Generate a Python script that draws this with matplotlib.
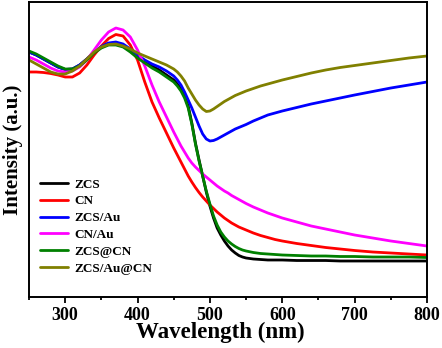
import numpy as np
import matplotlib.pyplot as plt

plt.rcParams['font.family'] = 'Liberation Serif'
plt.rcParams['font.weight'] = 'bold'

# wavelength grid (nm)
wl = [250, 260, 270, 280, 290, 300, 310, 320, 330, 340, 350, 360, 370, 380, 390,
      400, 410, 420, 430, 440, 450, 455, 460, 465, 470, 475, 480, 485, 490, 495,
      500, 505, 510, 515, 520, 525, 530, 535, 540, 545, 550, 560, 570, 580, 590,
      600, 620, 640, 660, 680, 700, 725, 750, 775, 800]

zcs = [2.45, 2.42, 2.38, 2.34, 2.30, 2.275, 2.28, 2.32, 2.38, 2.45, 2.50, 2.535, 2.54, 2.51, 2.46,
       2.40, 2.35, 2.31, 2.27, 2.22, 2.17, 2.13, 2.08, 2.01, 1.91, 1.74, 1.54, 1.37, 1.21, 1.05,
       0.91, 0.79, 0.69, 0.62, 0.56, 0.51, 0.47, 0.44, 0.415, 0.40, 0.39, 0.38, 0.375, 0.37, 0.37,
       0.37, 0.365, 0.365, 0.365, 0.36, 0.36, 0.36, 0.36, 0.36, 0.36]

cn = [2.25, 2.25, 2.245, 2.235, 2.22, 2.20, 2.20, 2.24, 2.32, 2.42, 2.51, 2.585, 2.625, 2.61, 2.52,
      2.37, 2.15, 1.95, 1.79, 1.64, 1.49, 1.42, 1.35, 1.28, 1.21, 1.15, 1.095, 1.045, 1.00, 0.96,
      0.92, 0.885, 0.85, 0.82, 0.79, 0.765, 0.74, 0.72, 0.70, 0.685, 0.67, 0.64, 0.615, 0.595, 0.575,
      0.56, 0.535, 0.515, 0.495, 0.48, 0.465, 0.45, 0.44, 0.43, 0.42]

zcs_au = [2.45, 2.42, 2.38, 2.34, 2.30, 2.275, 2.28, 2.32, 2.38, 2.45, 2.505, 2.54, 2.55, 2.53, 2.48,
          2.42, 2.37, 2.33, 2.30, 2.26, 2.21, 2.17, 2.12, 2.05, 1.97, 1.89, 1.80, 1.71, 1.63, 1.58,
          1.56, 1.565, 1.58, 1.60, 1.62, 1.64, 1.66, 1.68, 1.695, 1.71, 1.725, 1.76, 1.79, 1.82, 1.84,
          1.86, 1.895, 1.93, 1.96, 1.99, 2.02, 2.055, 2.09, 2.12, 2.15]

cn_au = [2.40, 2.37, 2.33, 2.29, 2.26, 2.25, 2.26, 2.30, 2.37, 2.47, 2.57, 2.65, 2.69, 2.67, 2.60,
         2.47, 2.31, 2.12, 1.95, 1.80, 1.65, 1.58, 1.51, 1.45, 1.39, 1.34, 1.30, 1.265, 1.23, 1.20,
         1.17, 1.14, 1.11, 1.085, 1.06, 1.04, 1.015, 0.995, 0.975, 0.955, 0.935, 0.90, 0.87, 0.84, 0.815,
         0.79, 0.75, 0.71, 0.68, 0.65, 0.62, 0.59, 0.56, 0.535, 0.51]

zcs_cn = [2.46, 2.43, 2.39, 2.35, 2.31, 2.28, 2.28, 2.31, 2.37, 2.44, 2.49, 2.52, 2.52, 2.50, 2.45,
          2.39, 2.34, 2.29, 2.25, 2.20, 2.15, 2.11, 2.06, 1.99, 1.89, 1.73, 1.53, 1.36, 1.21, 1.06,
          0.93, 0.81, 0.72, 0.65, 0.60, 0.56, 0.53, 0.505, 0.485, 0.47, 0.46, 0.445, 0.435, 0.43, 0.425,
          0.42, 0.415, 0.41, 0.41, 0.405, 0.405, 0.40, 0.40, 0.40, 0.395]

zcs_au_cn = [2.37, 2.33, 2.29, 2.25, 2.23, 2.23, 2.26, 2.31, 2.38, 2.45, 2.50, 2.525, 2.53, 2.51, 2.48,
             2.44, 2.41, 2.38, 2.35, 2.32, 2.28, 2.25, 2.21, 2.16, 2.09, 2.03, 1.97, 1.92, 1.88, 1.855,
             1.86, 1.88, 1.905, 1.93, 1.955, 1.975, 1.995, 2.015, 2.03, 2.045, 2.06, 2.085, 2.11, 2.13, 2.15,
             2.17, 2.205, 2.24, 2.27, 2.295, 2.315, 2.34, 2.365, 2.39, 2.41]

labels = ['ZCS', 'CN', 'ZCS/Au', 'CN/Au', 'ZCS@CN', 'ZCS/Au@CN']
colors = ['#000000', '#ff0000', '#0000ff', '#ff00ff', '#008000', '#808000']
series = [zcs, cn, zcs_au, cn_au, zcs_cn, zcs_au_cn]

fig = plt.figure(figsize=(4.42, 3.48), dpi=100)
ax = fig.add_axes([29 / 442, 51 / 348, 398 / 442, 295 / 348])

for y, c, lab in zip(series, colors, labels):
    ax.plot(wl, y, color=c, lw=2.0, label=lab, solid_capstyle='round')

ax.set_xlim(250, 800)
ax.set_ylim(0, 2.95)
ax.set_xticks([300, 400, 500, 600, 700, 800])
ax.set_xticks(np.arange(250, 801, 50), minor=True)
ax.set_yticks([])
ax.tick_params(axis='x', which='major', direction='out', length=4, width=1.3,
               labelsize=13, pad=3)
ax.tick_params(axis='x', which='minor', direction='out', length=2.5, width=1.3)
for s in ax.spines.values():
    s.set_linewidth(1.4)

ax.set_xlabel('Wavelength (nm)', fontsize=16.5, fontweight='bold', labelpad=0)
ax.xaxis.set_label_coords(0.48, -0.085)
ax.set_ylabel('Intensity (a.u.)', fontsize=15, fontweight='bold', labelpad=4)

leg = ax.legend(loc='upper left', bbox_to_anchor=(0.015, 0.42), frameon=False,
                fontsize=9.5, handlelength=2.1, handletextpad=0.45,
                labelspacing=0.345, borderaxespad=0)
for h in leg.get_lines():
    h.set_linewidth(2.0)

fig.savefig('out.png', dpi=100)
